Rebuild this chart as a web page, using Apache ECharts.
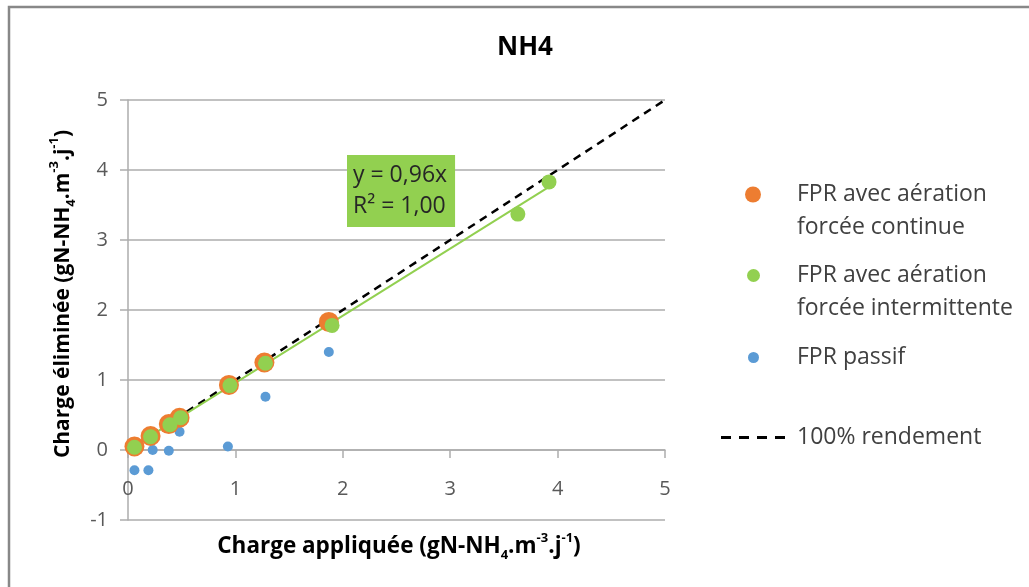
<!DOCTYPE html>
<html lang="fr">
<head>
    <meta charset="UTF-8">
    <title>NH4</title>
    <script src="https://cdn.jsdelivr.net/npm/echarts@6.0.0/dist/echarts.min.js"></script>
    <style>
        html, body { margin: 0; padding: 0; background: #fff; }
        #container { width: 1029px; height: 587px; }
    </style>
</head>
<body>
<div id="container"></div>
<script type="text/javascript">
    // valeurs (x = charge appliquée, y = charge éliminée)
    let continueData = [[0.06, 0.05], [0.21, 0.20], [0.38, 0.37], [0.48, 0.46], [0.94, 0.93], [1.27, 1.25], [1.87, 1.83]];
    let intermittenteData = [[0.06, 0.04], [0.21, 0.19], [0.39, 0.36], [0.49, 0.46], [0.95, 0.92], [1.28, 1.24], [1.90, 1.78], [3.63, 3.37], [3.92, 3.83]];
    let passifData = [[0.06, -0.29], [0.19, -0.29], [0.23, 0.00], [0.38, -0.01], [0.48, 0.26], [0.93, 0.05], [1.28, 0.76], [1.87, 1.40]];
    let trendData = [[0.06, 0.06], [3.92, 3.76]];
    let rendementData = [[0, 0], [5, 5]];
    let seriesNames = ['FPR avec aération\nforcée continue', 'FPR avec aération\nforcée intermittente', 'FPR passif', '100% rendement'];
    let equationText = 'y = 0,96x\nR² = 1,00';
    let xMin = 0, xMax = 5, yMin = -1, yMax = 5;

    let font = '"Open Sans", "DejaVu Sans", sans-serif';
    let gridColor = '#ADADAD';
    let gridTop = 100, gridBottom = 67, chartHeight = 587;
    let gridHeight = chartHeight - gridTop - gridBottom;

    let dom = document.getElementById("container");
    let myChart = echarts.init(dom, null, {renderer: 'canvas'});

    // une légende par série pour garder la taille de chaque pastille
    // (ligne vide devant les libellés sur deux lignes : la pastille reste sur la 1re ligne)
    let legendX = 753, legendTextX = 797;
    let legendItem = function(name, top, size, icon){
        let item = {name: name};
        let w = icon ? 64 : size;
        let left = Math.round(legendX - 5 - w / 2);
        if (icon) item.icon = icon;
        return {
            left: left,
            top: top,
            orient: 'vertical',
            itemWidth: w,
            itemHeight: size,
            selectedMode: false,
            data: [item],
            formatter: function(n){ return n.indexOf('\n') > -1 ? '\n' + n : n; },
            textStyle: {
                fontFamily: font,
                fontSize: 23,
                color: '#404040',
                lineHeight: 33,
                padding: [0, 0, 0, legendTextX - (left + 10 + w)]
            }
        };
    };
    let dashIcon = 'path://M0,0h10v3h-10z M18,0h10v3h-10z M36,0h10v3h-10z M54,0h10v3h-10z';

    let titleRich = function(size){
        return {
            b: {fontFamily: font, fontSize: size, fontWeight: 'bold', color: '#000', lineHeight: 30, verticalAlign: 'middle'},
            sub: {fontFamily: font, fontSize: 13, fontWeight: 'bold', color: '#000', verticalAlign: 'bottom'},
            sup: {fontFamily: font, fontSize: 13, fontWeight: 'bold', color: '#000', verticalAlign: 'top'}
        };
    };

    let option = {
        animation: false,
        backgroundColor: '#fff',
        title: {
            text: 'NH4',
            left: 497,
            top: 35,
            padding: 0,
            textStyle: {fontFamily: font, fontSize: 26, fontWeight: 'bold', color: '#000'}
        },
        legend: [
            legendItem(seriesNames[0], 140, 16),
            legendItem(seriesNames[1], 221, 13),
            legendItem(seriesNames[2], 336, 11),
            legendItem(seriesNames[3], 416, 3, dashIcon)
        ],
        grid: {
            left: 128,
            right: 364,
            top: gridTop,
            bottom: gridBottom,
            outerBoundsMode: 'none'
        },
        xAxis: {
            type: 'value',
            min: xMin,
            max: xMax,
            interval: 1,
            // l'axe des abscisses croise l'axe vertical en y = 0
            offset: -gridHeight * (0 - yMin) / (yMax - yMin),
            axisLine: {onZero: false, lineStyle: {color: gridColor, width: 1.5}},
            axisTick: {show: true, inside: false, length: 8, lineStyle: {color: gridColor, width: 1.5}},
            axisLabel: {margin: 29, fontFamily: font, fontSize: 20, color: '#595959'},
            splitLine: {show: false}
        },
        yAxis: {
            type: 'value',
            min: yMin,
            max: yMax,
            interval: 1,
            axisLine: {show: true, onZero: false, lineStyle: {color: gridColor, width: 1.5}},
            axisTick: {show: true, inside: false, length: 8, lineStyle: {color: gridColor, width: 1.5}},
            axisLabel: {margin: 20, fontFamily: font, fontSize: 20, color: '#595959'},
            splitLine: {show: true, lineStyle: {color: gridColor, width: 1.5}}
        },
        graphic: [
            {
                type: 'rect',
                shape: {x: 9, y: 7, width: 1100, height: 700},
                style: {fill: 'transparent', stroke: '#888888', lineWidth: 2.5},
                silent: true
            },
            {
                type: 'text',
                x: 63,
                y: 294,
                rotation: Math.PI / 2,
                style: {
                    text: '{b|Charge éliminée (gN-NH}{sub|4}{b|.m}{sup|-3}{b|.j}{sup|-1}{b|)}',
                    rich: titleRich(21),
                    align: 'center',
                    verticalAlign: 'middle'
                }
            },
            {
                type: 'text',
                x: 399,
                y: 547,
                style: {
                    text: '{b|Charge appliquée (gN-NH}{sub|4}{b|.m}{sup|-3}{b|.j}{sup|-1}{b|)}',
                    rich: titleRich(22.5),
                    align: 'center',
                    verticalAlign: 'middle'
                }
            },
            {
                type: 'text',
                left: 347,
                top: 155,
                z: 100,
                style: {
                    text: equationText,
                    fontFamily: font,
                    fontSize: 23,
                    lineHeight: 31,
                    fill: '#262626',
                    backgroundColor: '#92D050',
                    padding: [5, 8, 5, 6]
                }
            }
        ],
        series: [
            {
                name: seriesNames[3],
                type: 'line',
                data: rendementData,
                symbol: 'none',
                z: 1,
                lineStyle: {color: '#000', width: 2.5, type: [8, 6]},
                itemStyle: {color: '#000'}
            },
            {
                name: 'tendance',
                type: 'line',
                data: trendData,
                symbol: 'none',
                z: 1,
                lineStyle: {color: '#92D050', width: 2}
            },
            {
                name: seriesNames[2],
                type: 'scatter',
                data: passifData,
                symbolSize: 10,
                z: 3,
                itemStyle: {color: '#5B9BD5', opacity: 1}
            },
            {
                name: seriesNames[0],
                type: 'scatter',
                data: continueData,
                symbolSize: 20,
                z: 3,
                itemStyle: {color: '#ED7D31', opacity: 1}
            },
            {
                name: seriesNames[1],
                type: 'scatter',
                data: intermittenteData,
                symbolSize: 15,
                z: 4,
                itemStyle: {color: '#92D050', opacity: 1}
            }
        ]
    };
    myChart.setOption(option);
</script>
</body>
</html>
